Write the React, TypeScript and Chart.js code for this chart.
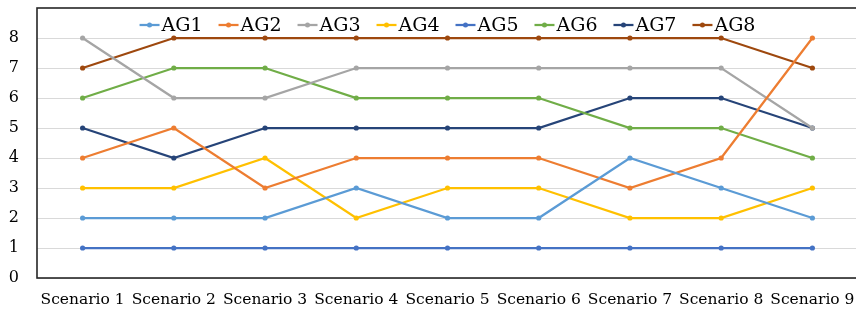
import React, { useEffect, useRef } from "react";
import { Chart, registerables } from "chart.js";

Chart.register(...registerables);

const categories = ["Scenario 1", "Scenario 2", "Scenario 3", "Scenario 4", "Scenario 5", "Scenario 6", "Scenario 7", "Scenario 8", "Scenario 9"];
const seriesNames = ["AG1", "AG2", "AG3", "AG4", "AG5", "AG6", "AG7", "AG8"];
const seriesColors = ["#5B9BD5", "#ED7D31", "#A5A5A5", "#FFC000", "#4472C4", "#70AD47", "#264478", "#9E480E"];
const ag1 = [2, 2, 2, 3, 2, 2, 4, 3, 2];
const ag2 = [4, 5, 3, 4, 4, 4, 3, 4, 8];
const ag3 = [8, 6, 6, 7, 7, 7, 7, 7, 5];
const ag4 = [3, 3, 4, 2, 3, 3, 2, 2, 3];
const ag5 = [1, 1, 1, 1, 1, 1, 1, 1, 1];
const ag6 = [6, 7, 7, 6, 6, 6, 5, 5, 4];
const ag7 = [5, 4, 5, 5, 5, 5, 6, 6, 5];
const ag8 = [7, 8, 8, 8, 8, 8, 8, 8, 7];
const seriesValues = [ag1, ag2, ag3, ag4, ag5, ag6, ag7, ag8];
const yTicks = [0, 1, 2, 3, 4, 5, 6, 7, 8];

const FONT = "'DejaVu Serif', serif";

const framePlugin = {
  id: "frameAndLegend",
  beforeDatasetsDraw(chart: any) {
    const { ctx, chartArea } = chart;
    ctx.save();
    ctx.strokeStyle = "#262626";
    ctx.lineWidth = 1.6;
    ctx.strokeRect(chartArea.left, chartArea.top, chartArea.right - chartArea.left, chartArea.bottom - chartArea.top);
    ctx.restore();
  },
  afterDatasetsDraw(chart: any) {
    const { ctx, chartArea } = chart;
    ctx.save();
    ctx.font = `19px ${FONT}`;
    const marker = 20;
    const gap = 2;
    const spacing = 16;
    const items = chart.data.datasets.map((ds: any) => ({
      label: ds.label,
      color: ds.borderColor,
      w: ctx.measureText(ds.label).width,
    }));
    const total = items.reduce((s: number, it: any) => s + marker + gap + it.w, 0) + spacing * (items.length - 1);
    let x = (chartArea.left + chartArea.right) / 2 - total / 2;
    const y = 25;
    ctx.textBaseline = "middle";
    ctx.textAlign = "left";
    for (const it of items) {
      ctx.strokeStyle = it.color;
      ctx.lineWidth = 2.25;
      ctx.beginPath();
      ctx.moveTo(x, y);
      ctx.lineTo(x + marker, y);
      ctx.stroke();
      ctx.fillStyle = it.color;
      ctx.beginPath();
      ctx.arc(x + marker / 2, y, 2.5, 0, Math.PI * 2);
      ctx.fill();
      ctx.fillStyle = "#000000";
      ctx.fillText(it.label, x + marker + gap, y + 1);
      x += marker + gap + it.w + spacing;
    }
    ctx.restore();
  },
};

export default function App() {
  const ref = useRef<HTMLCanvasElement | null>(null);
  useEffect(() => {
    if (!ref.current) return;
    const chart = new Chart(ref.current, {
      type: "line",
      data: {
        labels: categories,
        datasets: seriesNames.map((name, i) => ({
          label: name,
          data: seriesValues[i],
          borderColor: seriesColors[i],
          backgroundColor: seriesColors[i],
          borderWidth: 2.25,
          pointRadius: 2.6,
          pointBorderWidth: 0,
          pointBackgroundColor: seriesColors[i],
          tension: 0,
          fill: false,
        })),
      },
      options: {
        animation: false,
        responsive: false,
        maintainAspectRatio: false,
        layout: { autoPadding: false, padding: { left: 9, right: 0, top: 8, bottom: 3 } },
        plugins: {
          legend: { display: false },
          tooltip: { enabled: false },
        },
        scales: {
          x: {
            offset: true,
            grid: { display: false, drawTicks: false },
            border: { display: false },
            ticks: {
              color: "#000000",
              font: { family: FONT, size: 15.5 },
              padding: 13,
              maxRotation: 0,
              autoSkip: false,
            },
            afterFit: (scale: any) => {
              scale.height = 31;
              scale.paddingLeft = 0;
              scale.paddingRight = 0;
              scale.paddingTop = 0;
              scale.paddingBottom = 0;
            },
          },
          y: {
            min: 0,
            max: 9,
            afterBuildTicks: (scale: any) => {
              scale.ticks = yTicks.map((v) => ({ value: v }));
            },
            grid: { color: "#D9D9D9", lineWidth: 1, drawTicks: false },
            border: { display: false },
            ticks: {
              color: "#000000",
              font: { family: FONT, size: 16 },
              padding: 18,
            },
            afterFit: (scale: any) => {
              scale.width = 28;
              scale.paddingLeft = 0;
              scale.paddingRight = 0;
              scale.paddingTop = 0;
              scale.paddingBottom = 0;
            },
          },
        },
      },
      plugins: [framePlugin],
    });
    return () => chart.destroy();
  }, []);
  return (
    <div style={{ position: "absolute", left: 0, top: 0, width: 856, height: 312, overflow: "hidden", background: "#ffffff" }}>
      <canvas ref={ref} width={858} height={312} style={{ display: "block", width: 858, height: 312 }} />
    </div>
  );
}
